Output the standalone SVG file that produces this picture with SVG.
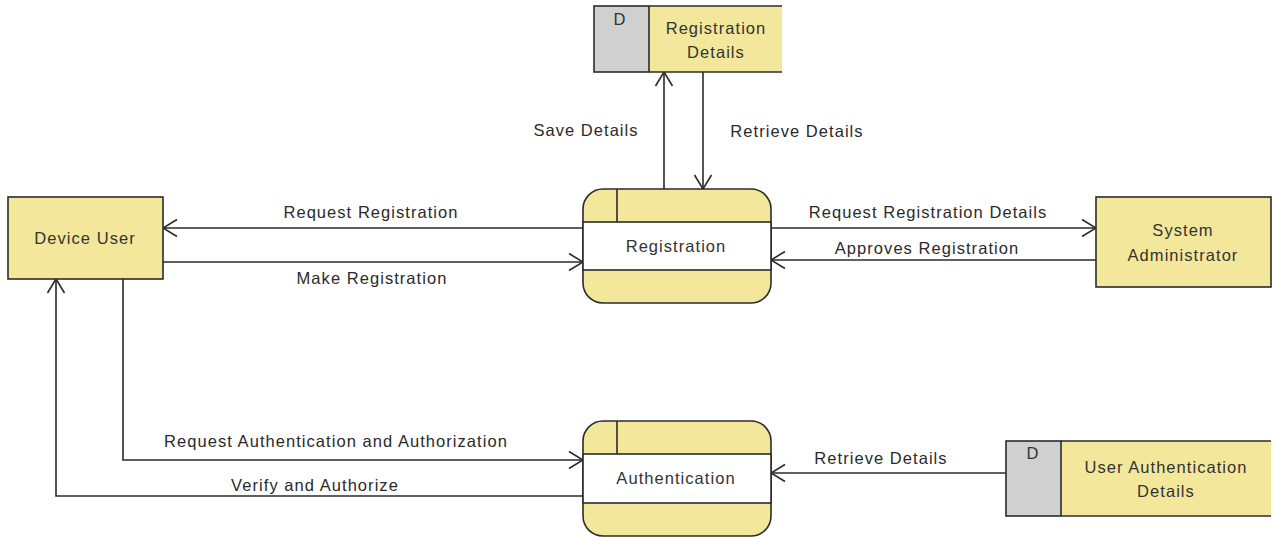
<svg xmlns="http://www.w3.org/2000/svg" width="1274" height="537" viewBox="0 0 1274 537">
  <style>
    .ent { fill: #F2E79B; stroke: #2b2b2b; stroke-width: 1.6; }
    .band { fill: #FFFFFF; stroke: #2b2b2b; stroke-width: 1.6; }
    .tag { fill: #D0D0D0; stroke: #2b2b2b; stroke-width: 1.6; }
    .ln { fill: none; stroke: #2b2b2b; stroke-width: 1.6; }
    .flow { fill: none; stroke: #2b2b2b; stroke-width: 1.6; marker-end: url(#open); }
    text { font-family: "Liberation Sans", Arial, sans-serif; font-size: 16.5px; fill: #2a2a2a; text-anchor: middle; letter-spacing: 1.05px; }
    .node text { fill: #333333; }
  </style>
  <defs>
    <marker id="open" viewBox="0 0 16 20" refX="15" refY="10" markerWidth="16" markerHeight="20" markerUnits="userSpaceOnUse" orient="auto">
      <path d="M1,1.5 L15,10 L1,18.5" fill="none" stroke="#2b2b2b" stroke-width="1.6"/>
    </marker>
  </defs>

  <rect width="1274" height="537" fill="#FFFFFF"/>

  <!-- data flows -->
  <g id="connectors">
    <line class="flow" x1="664" y1="189" x2="664" y2="72"/>
    <line class="flow" x1="703" y1="72" x2="703" y2="189"/>
    <line class="flow" x1="583" y1="228" x2="163" y2="228"/>
    <line class="flow" x1="163" y1="262" x2="583" y2="262"/>
    <line class="flow" x1="771" y1="228" x2="1096" y2="228"/>
    <line class="flow" x1="1096" y1="260" x2="771" y2="260"/>
    <polyline class="flow" points="123,279 123,460 583,460"/>
    <polyline class="flow" points="583,496 56,496 56,279"/>
    <line class="flow" x1="1006" y1="473" x2="771" y2="473"/>

    <text x="586" y="136">Save Details</text>
    <text x="797" y="137">Retrieve Details</text>
    <text x="371" y="218">Request Registration</text>
    <text x="372" y="284">Make Registration</text>
    <text x="928" y="218">Request Registration Details</text>
    <text x="927" y="254">Approves Registration</text>
    <text x="336" y="447">Request Authentication and Authorization</text>
    <text x="315" y="491">Verify and Authorize</text>
    <text x="881" y="464">Retrieve Details</text>
  </g>

  <!-- external entities -->
  <g id="device-user" class="node">
    <rect class="ent" x="8" y="197" width="155" height="82"/>
    <text x="85" y="244">Device User</text>
  </g>

  <g id="system-administrator" class="node">
    <rect class="ent" x="1096" y="197" width="175" height="90"/>
    <text x="1183" y="236">System</text>
    <text x="1183" y="261">Administrator</text>
  </g>

  <!-- processes -->
  <g id="registration" class="node">
    <rect class="ent" x="583" y="189" width="188" height="114" rx="20" ry="20"/>
    <rect class="band" x="583" y="222" width="188" height="48"/>
    <line class="ln" x1="617" y1="189" x2="617" y2="222"/>
    <text x="676" y="252">Registration</text>
  </g>

  <g id="authentication" class="node">
    <rect class="ent" x="583" y="421" width="188" height="115" rx="20" ry="20"/>
    <rect class="band" x="583" y="454" width="188" height="49"/>
    <line class="ln" x1="617" y1="421" x2="617" y2="454"/>
    <text x="676" y="484">Authentication</text>
  </g>

  <!-- data stores -->
  <g id="registration-details" class="node">
    <rect x="649" y="6" width="133" height="66" fill="#F2E79B"/>
    <rect class="tag" x="594" y="6" width="55" height="66"/>
    <polyline class="ln" points="649,6 782,6"/>
    <polyline class="ln" points="649,72 782,72"/>
    <text x="620" y="25">D</text>
    <text x="716" y="34">Registration</text>
    <text x="716" y="58">Details</text>
  </g>

  <g id="user-authentication-details" class="node">
    <rect x="1061" y="441" width="210" height="75" fill="#F2E79B"/>
    <rect class="tag" x="1006" y="441" width="55" height="75"/>
    <polyline class="ln" points="1061,441 1271,441"/>
    <polyline class="ln" points="1061,516 1271,516"/>
    <text x="1033" y="459">D</text>
    <text x="1166" y="473">User Authentication</text>
    <text x="1166" y="497">Details</text>
  </g>
</svg>
